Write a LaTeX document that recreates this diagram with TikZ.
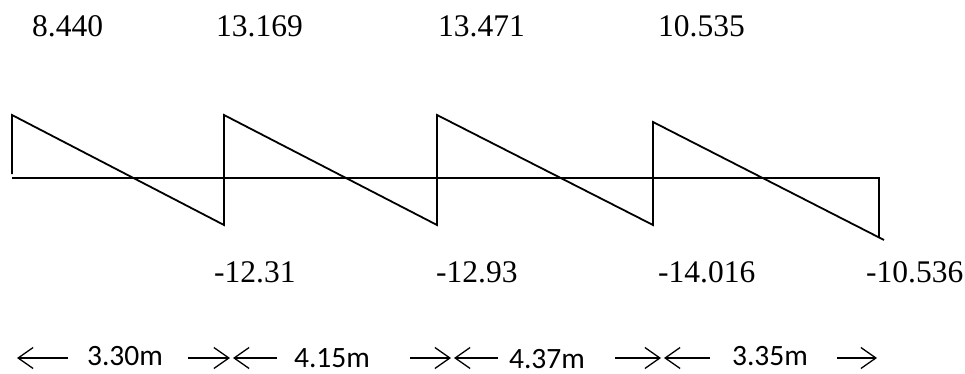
\documentclass[tikz,border=0pt]{standalone}
\usepackage{fontspec}
\setmainfont{Liberation Serif}
\newfontfamily\spanfont{Carlito}
\usetikzlibrary{arrows.meta}

\begin{document}
\begin{tikzpicture}[
    x=1pt, y=-1pt,
    shear/.style={line width=1.8pt, line join=miter},
    val/.style={anchor=west, inner sep=0pt, font=\fontsize{31.5}{36}\selectfont},
    span/.style={inner sep=0pt, font=\spanfont\fontsize{29.5}{34}\selectfont},
    dimarr/.style={line width=1.3pt, -{Straight Barb[length=15pt, width=21pt, line width=1.3pt]}}
]
\useasboundingbox (0,0) rectangle (965,374);

\coordinate (a0) at (12,174);
\coordinate (t0) at (12,115);
\coordinate (b1) at (224,225);
\coordinate (t1) at (224,115);
\coordinate (b2) at (437,225);
\coordinate (t2) at (437,115);
\coordinate (b3) at (653,225);
\coordinate (t3) at (653,122);
\coordinate (b4) at (884,240);
\coordinate (e0) at (12,178);
\coordinate (e1) at (879,178);
\coordinate (e2) at (879,238);

\draw[shear] (e0) -- (e1) -- (e2);
\draw[shear] (a0) -- (t0) -- (b1) -- (t1) -- (b2) -- (t2) -- (b3) -- (t3) -- (b4);

\node[val] (top1) at (32,26) {8.440};
\node[val] (top2) at (216,26) {13.169};
\node[val] (top3) at (438,26) {13.471};
\node[val] (top4) at (658,26) {10.535};

\node[val] (bot1) at (214,272) {-12.31};
\node[val] (bot2) at (436,272) {-12.93};
\node[val] (bot3) at (658,272) {-14.016};
\node[val] (bot4) at (866,272) {-10.536};

\coordinate (m0) at (17,358);
\coordinate (m1) at (230,358);
\coordinate (n1) at (233,358);
\coordinate (m2) at (451,358);
\coordinate (n2) at (454,358);
\coordinate (m3) at (661,358);
\coordinate (n3) at (664,358);
\coordinate (m4) at (877,358);

\coordinate (q1) at (68,358);
\coordinate (q2) at (188,358);
\coordinate (q3) at (277,358);
\coordinate (q4) at (410,358);
\coordinate (q5) at (498,358);
\coordinate (q6) at (615,358);
\coordinate (q7) at (710,358);
\coordinate (q8) at (837,358);

\draw[dimarr] (q1) -- (m0);
\draw[dimarr] (q2) -- (m1);
\draw[dimarr] (q3) -- (n1);
\draw[dimarr] (q4) -- (m2);
\draw[dimarr] (q5) -- (n2);
\draw[dimarr] (q6) -- (m3);
\draw[dimarr] (q7) -- (n3);
\draw[dimarr] (q8) -- (m4);

\node[span] (len1) at (125,356) {3.30m};
\node[span] (len2) at (332,358) {4.15m};
\node[span] (len3) at (547,359) {4.37m};
\node[span] (len4) at (770,356) {3.35m};
\end{tikzpicture}
\end{document}
